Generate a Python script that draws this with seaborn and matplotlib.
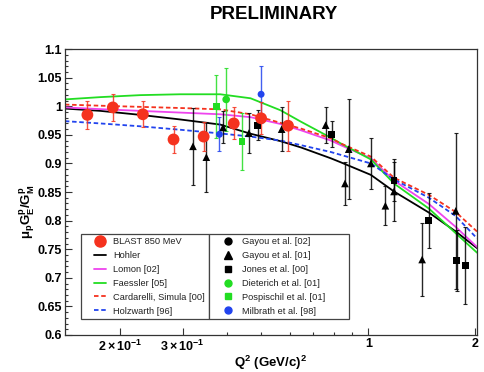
import matplotlib

matplotlib.use("Agg")
import matplotlib.pyplot as plt
from matplotlib.legend_handler import HandlerLine2D
from matplotlib.lines import Line2D
from matplotlib.ticker import FixedFormatter, FixedLocator, MultipleLocator, NullFormatter
import seaborn as sns

# theory curves, sampled along Q^2 (GeV/c)^2
CURVE_Q2 = [0.140, 0.176, 0.228, 0.295, 0.383, 0.466, 0.566, 0.646, 0.784, 0.836, 1.016, 1.18, 1.48, 1.76, 2.02]
HOHLER = [0.996, 0.992, 0.985, 0.977, 0.968, 0.952, 0.939, 0.928, 0.909, 0.902, 0.880, 0.851, 0.814, 0.781, 0.752]
LOMON = [0.998, 0.995, 0.992, 0.989, 0.986, 0.981, 0.969, 0.958, 0.940, 0.932, 0.909, 0.870, 0.829, 0.789, 0.754]
FAESSLER = [1.012, 1.016, 1.0195, 1.021, 1.021, 1.014, 0.993, 0.973, 0.945, 0.935, 0.907, 0.865, 0.821, 0.778, 0.744]
CARDARELLI = [1.003, 1.001, 0.999, 0.997, 0.9946, 0.986, 0.971, 0.961, 0.944, 0.935, 0.912, 0.875, 0.845, 0.815, 0.781]
HOLZWARTH = [0.974, 0.970, 0.965, 0.959, 0.9525, 0.947, 0.940, 0.932, 0.920, 0.915, 0.900, 0.872, 0.840, 0.808, 0.769]

# measurements
BLAST_Q2 = [0.162, 0.191, 0.232, 0.283, 0.344, 0.418, 0.499, 0.594]
BLAST_RATIO = [0.985, 0.998, 0.986, 0.942, 0.947, 0.970, 0.979, 0.966]
BLAST_ERR = [0.024, 0.024, 0.023, 0.024, 0.025, 0.028, 0.028, 0.044]

GAYOU01_Q2 = [0.321, 0.350, 0.390, 0.461, 0.570, 0.758, 0.859, 0.880, 1.016, 1.116, 1.18, 1.416, 1.76]
GAYOU01_RATIO = [0.930, 0.911, 0.963, 0.953, 0.960, 0.967, 0.865, 0.925, 0.900, 0.826, 0.851, 0.732, 0.817]
GAYOU01_ERR = [0.067, 0.061, 0.028, 0.035, 0.039, 0.032, 0.038, 0.087, 0.045, 0.034, 0.052, 0.063, 0.136]

JONES_Q2 = [0.489, 0.788, 1.18, 1.48, 1.77, 1.87]
JONES_RATIO = [0.967, 0.951, 0.871, 0.800, 0.730, 0.722]
JONES_ERR = [0.026, 0.023, 0.036, 0.048, 0.053, 0.067]

DIETERICH_Q2 = [0.398]
DIETERICH_RATIO = [1.012]
DIETERICH_ERR = [0.055]

POSPISCHIL_Q2 = [0.373, 0.441]
POSPISCHIL_RATIO = [1.000, 0.938]
POSPISCHIL_ERR = [0.055, 0.050]

MILBRATH_Q2 = [0.381, 0.499]
MILBRATH_RATIO = [0.951, 1.021]
MILBRATH_ERR = [0.030, 0.050]

X_TICKS = [0.2, 0.3, 1, 2]
X_TICK_LABELS = [r"$2\times10^{-1}$", r"$3\times10^{-1}$", "1", "2"]
X_MINOR_TICKS = [0.4, 0.5, 0.6, 0.7, 0.8, 0.9]

RED = "#f5321e"
GREEN = "#22dd22"
MAGENTA = "#ee44ee"
BLUE = "#2244ee"

sns.set_style("ticks")
plt.rcParams["font.family"] = ["Liberation Sans", "DejaVu Sans"]
plt.rcParams["mathtext.fontset"] = "custom"
plt.rcParams["mathtext.rm"] = "Liberation Sans:bold"
plt.rcParams["mathtext.it"] = "Liberation Sans:bold"
plt.rcParams["mathtext.bf"] = "Liberation Sans:bold"
plt.rcParams["mathtext.default"] = "rm"
for key in ("text.color", "axes.labelcolor", "xtick.labelcolor", "ytick.labelcolor"):
    plt.rcParams[key] = "black"

fig = plt.figure(figsize=(4.84, 3.72), dpi=100)
ax = fig.add_axes([0.134, 0.0995, 0.8515, 0.7685])
ax.set_xscale("log")

short_dash = (0, (2.5, 1.5))
curves = [
    (HOHLER, "black", "-"),
    (LOMON, MAGENTA, "-"),
    (FAESSLER, GREEN, "-"),
    (CARDARELLI, RED, short_dash),
    (HOLZWARTH, BLUE, short_dash),
]
for values, color, style in curves:
    sns.lineplot(x=CURVE_Q2, y=values, ax=ax, color=color, linestyle=style, linewidth=1.3)

points = [
    (GAYOU01_Q2, GAYOU01_RATIO, GAYOU01_ERR, "black", "^", 5.5),
    (JONES_Q2, JONES_RATIO, JONES_ERR, "black", "s", 5),
    (DIETERICH_Q2, DIETERICH_RATIO, DIETERICH_ERR, GREEN, "o", 5.5),
    (POSPISCHIL_Q2, POSPISCHIL_RATIO, POSPISCHIL_ERR, GREEN, "s", 5),
    (MILBRATH_Q2, MILBRATH_RATIO, MILBRATH_ERR, BLUE, "o", 5),
    (BLAST_Q2, BLAST_RATIO, BLAST_ERR, RED, "o", 8.5),
]
for q2, ratio, err, color, marker, size in points:
    ax.errorbar(q2, ratio, yerr=err, fmt="none", ecolor=color, elinewidth=1.0, capsize=1.5, capthick=0.8, alpha=0.85)
    sns.scatterplot(x=q2, y=ratio, ax=ax, color=color, marker=marker, s=size**2, edgecolor="none", zorder=5)

ax.set_xlim(0.14, 2.02)
ax.set_ylim(0.6, 1.1)
ax.xaxis.set_major_locator(FixedLocator(X_TICKS))
ax.xaxis.set_major_formatter(FixedFormatter(X_TICK_LABELS))
ax.xaxis.set_minor_locator(FixedLocator(X_MINOR_TICKS))
ax.xaxis.set_minor_formatter(NullFormatter())
ax.yaxis.set_major_locator(MultipleLocator(0.05))
ax.yaxis.set_minor_locator(MultipleLocator(0.01))
ax.yaxis.set_major_formatter(lambda v, _: f"{v:g}")
ax.tick_params(which="both", direction="in", top=False, right=False, width=0.8, color="#333333")
ax.tick_params(which="major", length=5)
ax.tick_params(which="minor", length=2.5)
ax.tick_params(axis="y", labelsize=9, pad=2)
ax.tick_params(axis="x", labelsize=9, pad=2.5)
for label in ax.get_xticklabels() + ax.get_yticklabels():
    label.set_fontweight("bold")
for spine in ax.spines.values():
    spine.set_visible(True)
    spine.set_linewidth(0.9)
    spine.set_color("#333333")

ax.set_xlabel(r"$Q^{2}$ (GeV/c)$^{2}$", fontsize=9.5, fontweight="bold", labelpad=0)
ax.set_ylabel(r"$\mu_{p}G^{p}_{E}/G^{p}_{M}$", fontsize=9.5)
ax.yaxis.set_label_coords(-0.068, 0.43)
fig.text(0.566, 0.962, "PRELIMINARY", ha="center", va="center", fontsize=13.5, fontweight="bold")

left_handles = [
    Line2D([], [], color=RED, marker="o", markersize=8, linestyle="none"),
    Line2D([], [], color="black", linewidth=1.3),
    Line2D([], [], color=MAGENTA, linewidth=1.3),
    Line2D([], [], color=GREEN, linewidth=1.3),
    Line2D([], [], color=RED, linewidth=1.3, linestyle=short_dash),
    Line2D([], [], color=BLUE, linewidth=1.3, linestyle=short_dash),
]
left_labels = ["BLAST 850 MeV", "Hohler", "Lomon [02]", "Faessler [05]", "Cardarelli, Simula [00]", "Holzwarth [96]"]
right_handles = [
    Line2D([], [], color="black", marker="o", markersize=5, linestyle="none"),
    Line2D([], [], color="black", marker="^", markersize=5.5, linestyle="none"),
    Line2D([], [], color="black", marker="s", markersize=5, linestyle="none"),
    Line2D([], [], color=GREEN, marker="o", markersize=5, linestyle="none"),
    Line2D([], [], color=GREEN, marker="s", markersize=5, linestyle="none"),
    Line2D([], [], color=BLUE, marker="o", markersize=5, linestyle="none"),
]
right_labels = ["Gayou et al. [02]", "Gayou et al. [01]", "Jones et al. [00]", "Dieterich et al. [01]",
                "Pospischil et al. [01]", "Milbrath et al. [98]"]

legend_style = dict(
    loc="lower left", mode="expand", fontsize=6.7, frameon=True, fancybox=False, framealpha=1,
    edgecolor="#444444", borderaxespad=0, borderpad=0.4, labelspacing=0.52, handlelength=2.3,
    handletextpad=0.8, handler_map={Line2D: HandlerLine2D(xpad=1.0)},
)
leg1 = ax.legend(left_handles, left_labels, bbox_to_anchor=(0.038, 0.055, 0.312, 0.298), **legend_style)
leg1.get_frame().set_linewidth(0.9)
ax.add_artist(leg1)
leg2 = ax.legend(right_handles, right_labels, bbox_to_anchor=(0.350, 0.055, 0.339, 0.298), **legend_style)
leg2.get_frame().set_linewidth(0.9)
for legend in (leg1, leg2):
    for text in legend.get_texts():
        text.set_color("#222222")

fig.savefig("out.png", dpi=100)
plt.close(fig)
